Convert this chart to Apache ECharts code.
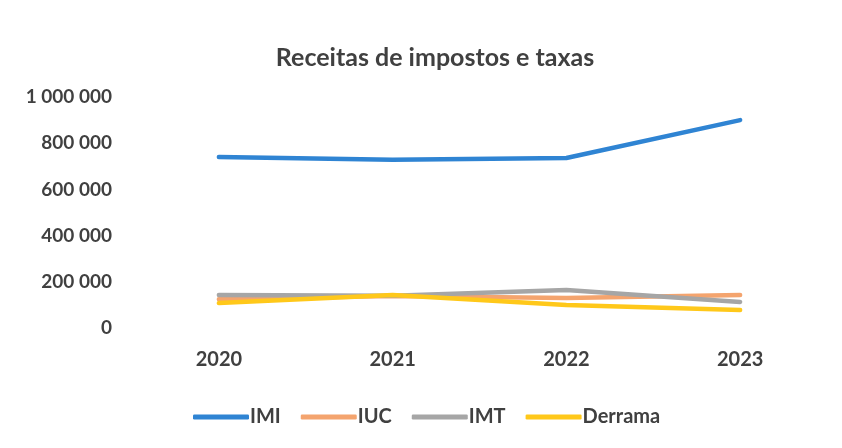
<!DOCTYPE html>
<html><head><meta charset="utf-8">
<script src="https://cdn.jsdelivr.net/npm/echarts@6/dist/echarts.min.js"></script>
<style>html,body{margin:0;padding:0;background:#fff}#c{width:842px;height:448px}</style>
</head><body><div id="c"></div>
<script>
const categories = ['2020','2021','2022','2023'];
const imi = [740000, 728000, 736000, 900000];
const iuc = [125000, 138000, 130000, 143000];
const imt = [143000, 140000, 165000, 113000];
const derrama = [108000, 143000, 100000, 78000];
const yTicks = [0, 200000, 400000, 600000, 800000, 1000000];

const fmt = v => String(v).replace(/\B(?=(\d{3})+(?!\d))/g, ' ');
const chart = echarts.init(document.getElementById('c'));
const font = 'Lato, "Open Sans", sans-serif';
const mk = (name, data, color, type) => ({
  name, type: 'line', data, symbol: 'none',
  lineStyle: {color, width: 4.5, type: type || 'solid', cap: 'round'},
  itemStyle: {color}
});
chart.setOption({
  animation: false,
  title: {text: 'Receitas de impostos e taxas', left: 430, top: 40, textAlign: 'center',
    textStyle: {fontFamily: font, fontSize: 25, fontWeight: 'bold', color: '#404040'}},
  grid: {left: 132, right: 15, top: 97, bottom: 120},
  xAxis: {type: 'category', data: categories, boundaryGap: true,
    axisLine: {show: false}, axisTick: {show: false},
    axisLabel: {margin: 22, fontFamily: font, fontSize: 20, fontWeight: 'bold', color: '#404040'}},
  yAxis: {type: 'value', min: yTicks[0], max: yTicks[yTicks.length-1], interval: 200000,
    splitLine: {show: false}, axisLine: {show: false}, axisTick: {show: false},
    axisLabel: {formatter: fmt, margin: 20, fontFamily: font, fontSize: 19, fontWeight: 'bold', color: '#404040'}},
  legend: {top: 402, left: 188, itemWidth: 56, itemHeight: 5, itemGap: 20, icon: 'roundRect',
    textStyle: {fontFamily: font, fontSize: 20, fontWeight: 'bold', color: '#404040', padding: [0,0,0,-4]},
    data: ['IMI','IUC','IMT','Derrama']},
  series: [
    mk('IMI', imi, '#2F84D3'),
    mk('IUC', iuc, '#F4A46E'),
    mk('IMT', imt, '#A6A6A6'),
    mk('Derrama', derrama, '#FFC81A')
  ]
});
</script></body></html>
